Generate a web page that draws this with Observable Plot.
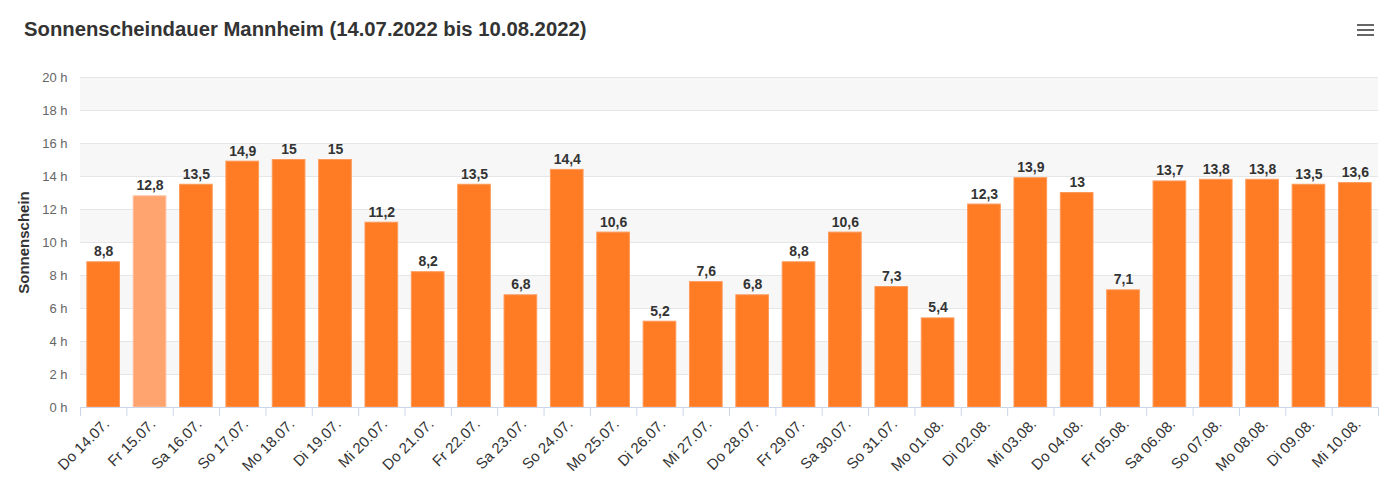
<!DOCTYPE html>
<html>
<head>
<meta charset="utf-8">
<script src="https://cdn.jsdelivr.net/npm/d3@7"></script>
<script src="https://cdn.jsdelivr.net/npm/@observablehq/plot@0.6"></script>
<style>
  body { margin: 0; background: #fff; font-family: "Liberation Sans", Arial, sans-serif; }
  #wrap { position: relative; width: 1391px; height: 500px; overflow: hidden; }
  #head { position: relative; height: 55px; }
  #title { position: absolute; left: 24px; top: 17px; font-size: 20.3px; font-weight: bold; color: #333; line-height: 24px; white-space: nowrap; }
  #menu { position: absolute; left: 1357px; top: 24px; width: 17px; }
  #menu span { display: block; height: 2px; background: #666; margin-bottom: 3px; }
</style>
</head>
<body>
<div id="wrap">
  <div id="head">
    <div id="title">Sonnenscheindauer Mannheim (14.07.2022 bis 10.08.2022)</div>
    <div id="menu"><span></span><span></span><span></span></div>
  </div>
  <div id="chart"></div>
</div>
<script>
const days = ["Do 14.07.", "Fr 15.07.", "Sa 16.07.", "So 17.07.", "Mo 18.07.", "Di 19.07.", "Mi 20.07.",
  "Do 21.07.", "Fr 22.07.", "Sa 23.07.", "So 24.07.", "Mo 25.07.", "Di 26.07.", "Mi 27.07.",
  "Do 28.07.", "Fr 29.07.", "Sa 30.07.", "So 31.07.", "Mo 01.08.", "Di 02.08.", "Mi 03.08.",
  "Do 04.08.", "Fr 05.08.", "Sa 06.08.", "So 07.08.", "Mo 08.08.", "Di 09.08.", "Mi 10.08."];
const hours = [8.8, 12.8, 13.5, 14.9, 15, 15, 11.2, 8.2, 13.5, 6.8, 14.4, 10.6, 5.2, 7.6,
  6.8, 8.8, 10.6, 7.3, 5.4, 12.3, 13.9, 13, 7.1, 13.7, 13.8, 13.8, 13.5, 13.6];
const highlighted = ["Fr 15.07."];
const yTicks = [0, 2, 4, 6, 8, 10, 12, 14, 16, 18, 20];
const bandStarts = [2, 6, 10, 14, 18];
const yTitle = "Sonnenschein";

const data = days.map((d, i) => ({day: d, h: hours[i]}));

const width = 1391, height = 445;
const marginLeft = 80, marginRight = 13, marginTop = 22, marginBottom = 93;
const step = (width - marginLeft - marginRight) / days.length;

const chart = Plot.plot({
  width, height, marginLeft, marginRight, marginTop, marginBottom,
  style: {fontFamily: "'Liberation Sans', Arial, sans-serif", background: "#fff"},
  x: {domain: days, paddingInner: 0.295, paddingOuter: 0.1475, round: false, label: null},
  y: {domain: [0, 20], label: null},
  marks: [
    Plot.rect(bandStarts, {y1: d => d, y2: d => d + 2, fill: "#f7f7f7"}),
    Plot.ruleY(yTicks.filter(d => d > 0), {stroke: "#e6e6e6", strokeWidth: 1}),
    Plot.barY(data, {
      x: "day", y: "h",
      fill: d => highlighted.includes(d.day) ? "#ffa36f" : "#ff7c25",
      stroke: d => highlighted.includes(d.day) ? "#ffc3a0" : "#ff9a5a",
      strokeWidth: 1
    }),
    Plot.text(data, {
      x: "day", y: "h", text: d => String(d.h).replace(".", ","),
      lineAnchor: "bottom", dy: -6, fontSize: 14, fontWeight: "bold", fill: "#333"
    }),
    Plot.ruleY([0], {stroke: "#ccd6eb", strokeWidth: 1}),
    Plot.ruleX(days, {x: d => d, dx: -step / 2, y1: 0, y2: -0.55, stroke: "#ccd6eb"}),
    Plot.ruleX(days.slice(-1), {x: d => d, dx: step / 2, y1: 0, y2: -0.55, stroke: "#ccd6eb"}),
    Plot.axisY({ticks: yTicks, tickFormat: d => d + " h", tickSize: 0, tickPadding: 13,
      fontSize: 13, fill: "#666", label: null}),
    Plot.axisX({tickRotate: -45, tickSize: 0, tickPadding: 14, dx: 3, fontSize: 15, fill: "#333", label: null}),
    Plot.text([yTitle], {frameAnchor: "left", textAnchor: "middle", dx: -56, rotate: -90, fontSize: 15,
      fontWeight: "bold", fill: "#333"})
  ]
});
document.getElementById("chart").appendChild(chart);
</script>
</body>
</html>
